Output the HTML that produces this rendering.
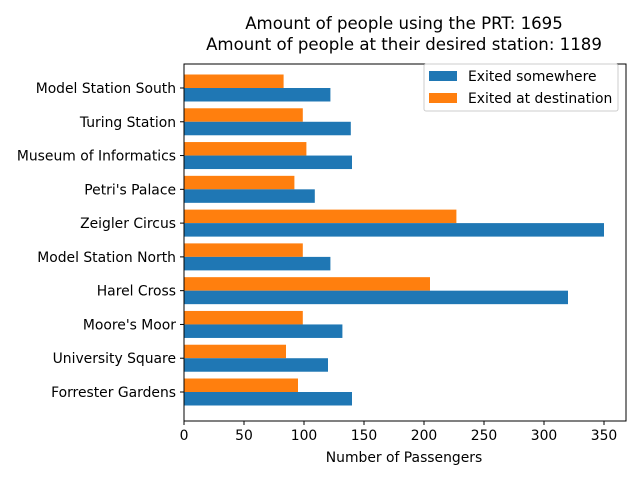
<!DOCTYPE html>
<html><head><meta charset="utf-8"><style>
body{margin:0;background:#fff;}
svg text{font-family:"DejaVu Sans","Liberation Sans",sans-serif;fill:#000;}
</style></head><body>
<svg id="chart" width="640" height="480" xmlns="http://www.w3.org/2000/svg">
<text x="404" y="29" font-size="16.6" text-anchor="middle">Amount of people using the PRT: 1695</text>
<text x="404" y="50" font-size="16.6" text-anchor="middle">Amount of people at their desired station: 1189</text>
<g id="bars"></g>
<rect x="184" y="64" width="442" height="357" fill="none" stroke="#000" stroke-width="1"/>
<g id="axes"></g>
<text x="404" y="462" font-size="13.9" text-anchor="middle">Number of Passengers</text>
<g>
<rect x="424" y="64" width="194" height="47" fill="#fff" stroke="#ccc" rx="2"/>
<rect x="429" y="71" width="28" height="10" fill="#1f77b4"/>
<text x="468" y="81" font-size="13.9">Exited somewhere</text>
<rect x="429" y="93" width="28" height="10" fill="#ff7f0e"/>
<text x="468" y="103" font-size="13.9">Exited at destination</text>
</g>
</svg>
<script>
const categories=["Model Station South","Turing Station","Museum of Informatics","Petri's Palace","Zeigler Circus","Model Station North","Harel Cross","Moore's Moor","University Square","Forrester Gardens"];
const exitedSomewhere=[122,139,140,109,350,122,320,132,120,140];
const exitedAtDestination=[83,99,102,92,227,99,205,99,85,95];
const xTicks=[0,50,100,150,200,250,300,350];
const NS="http://www.w3.org/2000/svg";
const x0=184,x1=626,y0=64,y1=421;
const xScale=v=>x0+v*(420/350);
const yCenter=i=>88+i*((392-88)/(categories.length-1));
const bh=13.5;
const bars=document.getElementById('bars'),axes=document.getElementById('axes');
function mk(tag,attrs,parent){const e=document.createElementNS(NS,tag);for(const k in attrs)e.setAttribute(k,attrs[k]);parent.appendChild(e);return e;}
categories.forEach((c,i)=>{
 const yc=yCenter(i);
 const o=mk('rect',{x:x0,y:yc-bh,width:xScale(exitedAtDestination[i])-x0,height:bh,fill:'#ff7f0e'},bars);
 
 
 const b=mk('rect',{x:x0,y:yc,width:xScale(exitedSomewhere[i])-x0,height:bh,fill:'#1f77b4'},bars);
 
 
 mk('line',{x1:x0-4,x2:x0,y1:yc,y2:yc,stroke:'#000'},axes);
 const t=mk('text',{x:x0-8,y:yc+5,'font-size':13.9,'text-anchor':'end'},axes);
 t.textContent=c;
 
 
});
xTicks.forEach(v=>{
 const x=xScale(v);
 mk('line',{x1:x,x2:x,y1:y1,y2:y1+4,stroke:'#000'},axes);
 const t=mk('text',{x:x,y:y1+19,'font-size':13.9,'text-anchor':'middle'},axes);
 t.textContent=v;
 
 
});
</script>
</body></html>
